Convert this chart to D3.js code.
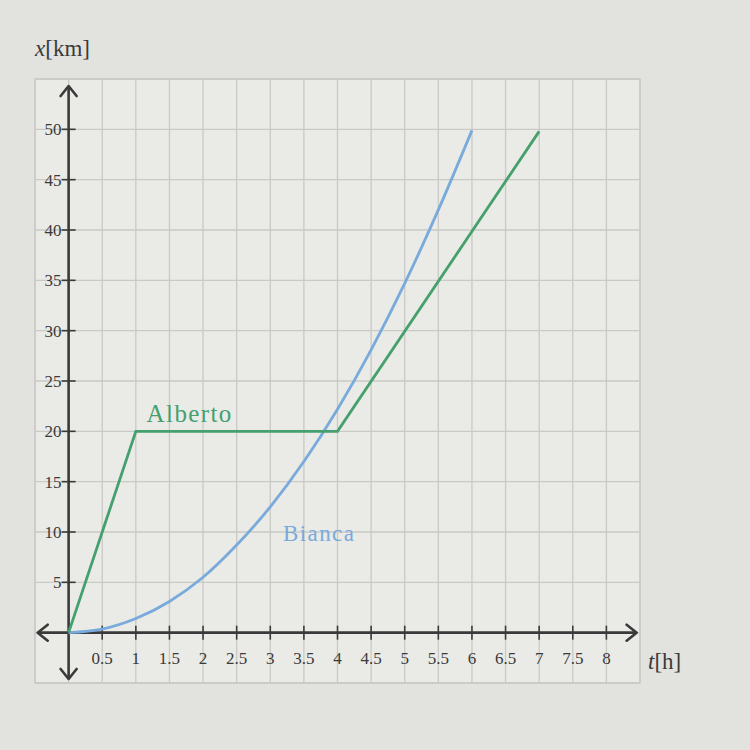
<!DOCTYPE html>
<html>
<head>
<meta charset="utf-8">
<script src="https://cdn.jsdelivr.net/npm/d3@7"></script>
<style>
  html, body { margin: 0; padding: 0; background: #e2e2de; }
  svg { display: block; }
</style>
</head>
<body>
<svg id="chart" width="750" height="750"></svg>
<script>
// ---- data ----
const tTicks = [0.5, 1, 1.5, 2, 2.5, 3, 3.5, 4, 4.5, 5, 5.5, 6, 6.5, 7, 7.5, 8];
const tTickLabels = ["0.5", "1", "1.5", "2", "2.5", "3", "3.5", "4", "4.5", "5", "5.5", "6", "6.5", "7", "7.5", "8"];
const xTicks = [5, 10, 15, 20, 25, 30, 35, 40, 45, 50];
const xTickLabels = ["5", "10", "15", "20", "25", "30", "35", "40", "45", "50"];
const albertoT = [0, 1, 4, 7];
const albertoX = [0, 20, 20, 49.8];
const biancaT = [0, 0.5, 1, 1.5, 2, 2.5, 3, 3.5, 4, 4.5, 5, 5.5, 6];
const biancaX = [0, 0.35, 1.4, 3.1, 5.5, 8.7, 12.5, 17, 22.2, 28.1, 34.7, 42, 49.9];
const seriesNames = ["Alberto", "Bianca"];
const seriesColors = ["#45a06e", "#78aadc"];

// ---- scales ----
const xs = d3.scaleLinear().domain([-0.5, 8.5]).range([35, 640]);
const ys = d3.scaleLinear().domain([-5, 55]).range([683, 79]);

const svg = d3.select("#chart");
const serif = "'Liberation Serif', 'DejaVu Serif', serif";
const textColor = "#3a3a3a";

// background paper
svg.append("rect").attr("x", 0).attr("y", 0).attr("width", 750).attr("height", 750).attr("fill", "#e2e2de");
svg.append("rect")
  .attr("x", xs(-0.5)).attr("y", ys(55))
  .attr("width", xs(8.5) - xs(-0.5)).attr("height", ys(-5) - ys(55))
  .attr("fill", "#eaeae6").attr("stroke", "#c6c6c2").attr("stroke-width", 1.2);

// grid
const gridT = d3.range(-0.5, 8.51, 0.5);
const gridX = d3.range(-5, 55.01, 5);
svg.append("g").selectAll("line").data(gridT).join("line")
  .attr("x1", d => xs(d)).attr("x2", d => xs(d))
  .attr("y1", ys(55)).attr("y2", ys(-5))
  .attr("stroke", "#c9c9c5").attr("stroke-width", 1.3);
svg.append("g").selectAll("line").data(gridX).join("line")
  .attr("y1", d => ys(d)).attr("y2", d => ys(d))
  .attr("x1", xs(-0.5)).attr("x2", xs(8.5))
  .attr("stroke", "#c9c9c5").attr("stroke-width", 1.3);

// axes lines with arrows
const axisColor = "#3a3a3a";
svg.append("defs").append("marker")
  .attr("id", "arr").attr("viewBox", "0 0 14 20").attr("refX", 12).attr("refY", 10)
  .attr("markerWidth", 14).attr("markerHeight", 20).attr("markerUnits", "userSpaceOnUse")
  .attr("orient", "auto-start-reverse")
  .append("path").attr("d", "M2,2 L12,10 L2,18").attr("fill", "none")
  .attr("stroke", axisColor).attr("stroke-width", 2.6).attr("stroke-linecap", "round").attr("stroke-linejoin", "round");

svg.append("line")
  .attr("x1", xs(-0.46)).attr("x2", xs(8.45)).attr("y1", ys(0)).attr("y2", ys(0))
  .attr("stroke", axisColor).attr("stroke-width", 2.6)
  .attr("marker-start", "url(#arr)").attr("marker-end", "url(#arr)");
svg.append("line")
  .attr("x1", xs(0)).attr("x2", xs(0)).attr("y1", ys(-4.6)).attr("y2", ys(54.3))
  .attr("stroke", axisColor).attr("stroke-width", 2.6)
  .attr("marker-start", "url(#arr)").attr("marker-end", "url(#arr)");

// x-axis ticks & labels
const xAxisG = svg.append("g");
xAxisG.selectAll("line").data(tTicks).join("line")
  .attr("x1", d => xs(d)).attr("x2", d => xs(d))
  .attr("y1", ys(0) - 7).attr("y2", ys(0) + 7)
  .attr("stroke", axisColor).attr("stroke-width", 1.6);
xAxisG.selectAll("text").data(tTicks).join("text")
  .attr("x", d => xs(d)).attr("y", ys(0) + 31)
  .attr("text-anchor", "middle")
  .attr("font-family", serif).attr("font-size", 17).attr("fill", textColor)
  .text((d, i) => tTickLabels[i]);

// y-axis ticks & labels
const yAxisG = svg.append("g");
yAxisG.selectAll("line").data(xTicks).join("line")
  .attr("x1", xs(0) - 7).attr("x2", xs(0) + 7)
  .attr("y1", d => ys(d)).attr("y2", d => ys(d))
  .attr("stroke", axisColor).attr("stroke-width", 1.6);
yAxisG.selectAll("text").data(xTicks).join("text")
  .attr("x", xs(0) - 7).attr("y", d => ys(d) + 6)
  .attr("text-anchor", "end")
  .attr("font-family", serif).attr("font-size", 17).attr("fill", textColor)
  .text((d, i) => xTickLabels[i]);

// axis titles
const yTitle = svg.append("text").attr("x", 35).attr("y", 56)
  .attr("font-family", serif).attr("font-size", 23).attr("fill", textColor);
yTitle.append("tspan").attr("font-style", "italic").text("x");
yTitle.append("tspan").text("[km]");
const xTitle = svg.append("text").attr("x", xs(8.5) + 8).attr("y", ys(0) + 36)
  .attr("font-family", serif).attr("font-size", 23).attr("fill", textColor);
xTitle.append("tspan").attr("font-style", "italic").text("t");
xTitle.append("tspan").text("[h]");

// series
const albertoPts = albertoT.map((t, i) => [t, albertoX[i]]);
const biancaPts = biancaT.map((t, i) => [t, biancaX[i]]);
svg.append("path").datum(biancaPts)
  .attr("d", d3.line().x(d => xs(d[0])).y(d => ys(d[1])).curve(d3.curveMonotoneX))
  .attr("fill", "none").attr("stroke", seriesColors[1]).attr("stroke-width", 2.8);
svg.append("path").datum(albertoPts)
  .attr("d", d3.line().x(d => xs(d[0])).y(d => ys(d[1])))
  .attr("fill", "none").attr("stroke", seriesColors[0]).attr("stroke-width", 2.8)
  .attr("stroke-linejoin", "miter");

// series labels
svg.append("text").attr("x", xs(1.16)).attr("y", ys(20.9))
  .attr("font-family", serif).attr("font-size", 25).attr("letter-spacing", 1.4)
  .attr("fill", seriesColors[0])
  .text(seriesNames[0]);
svg.append("text").attr("x", xs(3.19)).attr("y", ys(9.1))
  .attr("font-family", serif).attr("font-size", 23).attr("letter-spacing", 1.4)
  .attr("fill", seriesColors[1])
  .text(seriesNames[1]);
</script>
</body>
</html>
